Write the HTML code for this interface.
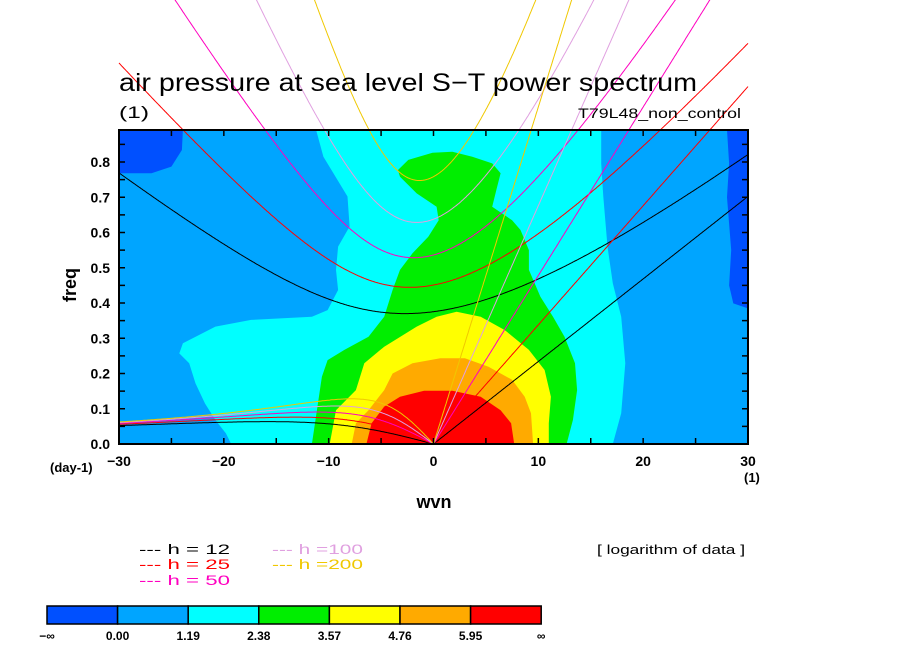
<!DOCTYPE html>
<html><head><meta charset="utf-8"><style>
html,body{margin:0;padding:0;background:#fff;}
svg{display:block;font-family:"Liberation Sans",sans-serif;}
</style></head><body>
<svg id="chart" width="904" height="654" viewBox="0 0 904 654" xmlns="http://www.w3.org/2000/svg">
<defs><clipPath id="pc"><rect x="119" y="130" width="629" height="314"/></clipPath></defs>
<rect x="0" y="0" width="904" height="654" fill="#fff"/>
<g id="fills" clip-path="url(#pc)"></g>
<g id="curves"></g>
<rect x="119" y="130" width="629" height="314" fill="none" stroke="#000" stroke-width="2"/>
<g id="ticks"></g>
<text x="119" y="91" font-size="25" textLength="578" lengthAdjust="spacingAndGlyphs">air pressure at sea level S−T power spectrum</text>
<text x="119" y="118" font-size="17" textLength="30" lengthAdjust="spacingAndGlyphs">(1)</text>
<text x="578" y="118" font-size="14" textLength="163" lengthAdjust="spacingAndGlyphs">T79L48_non_control</text>
<text x="0" y="0" font-size="18" font-weight="bold" transform="translate(76,285) rotate(-90)" text-anchor="middle">freq</text>
<text x="434" y="508" font-size="18" font-weight="bold" text-anchor="middle">wvn</text>
<text x="50" y="472" font-size="13" font-weight="bold">(day-1)</text>
<text x="744" y="482" font-size="13" font-weight="bold">(1)</text>
<g id="legend"></g>
<text x="597" y="554" font-size="13" textLength="148" lengthAdjust="spacingAndGlyphs">[ logarithm of data ]</text>
<g id="cbar"></g>
</svg>
<script>
// ---- data ----
const xTicks = [-30,-20,-10,0,10,20,30];
const yTicks = [0,0.1,0.2,0.3,0.4,0.5,0.6,0.7,0.8];
const depths = [12,25,50,100,200];
const depthColors = ["#000000","#ff0000","#ff00c0","#e0a0e0","#f0c800"];
const levelLabels = ["−∞","0.00","1.19","2.38","3.57","4.76","5.95","∞"];
const levelColors = ["#0050ff","#00a5ff","#00ffff","#00ee00","#ffff00","#ffaa00","#ff0000"];
// contour regions as [wavenumber, freq] vertices
const regionDarkTL = [[-30,0.891],[-23.9,0.891],[-24.0,0.834],[-25.0,0.787],[-26.9,0.768],[-30,0.768]];
const regionDarkR = [[28.0,0.891],[30.5,0.891],[30.5,0.38],[28.6,0.399],[28.2,0.45],[28.4,0.55],[28.0,0.70],[28.2,0.796]];
const regionCyan = [[-11.2,0.891],[-10.5,0.815],[-8.2,0.702],[-8.0,0.617],[-9.1,0.56],[-9.3,0.494],[-9.1,0.437],[-10.1,0.38],[-11.6,0.361],[-17.4,0.352],[-20.8,0.333],[-23.9,0.286],[-24.25,0.257],[-23.3,0.229],[-22.7,0.172],[-21.8,0.115],[-20.8,0.068],[-19.8,0.03],[-19.3,0],[17.1,0],[17.9,0.087],[18.3,0.229],[17.9,0.361],[17.1,0.456],[16.6,0.56],[16.2,0.702],[16.0,0.796],[16.0,0.891]];
const regionGreen = [[-11.6,0],[-10.65,0.191],[-10.1,0.238],[-8.5,0.267],[-6.2,0.304],[-4.7,0.361],[-3.9,0.437],[-3.2,0.494],[-2.0,0.541],[-0.5,0.588],[0.5,0.635],[0.3,0.673],[-1.6,0.711],[-3.2,0.758],[-3.4,0.777],[-2.4,0.806],[-0.1,0.826],[1.8,0.829],[3.7,0.815],[5.6,0.796],[6.4,0.768],[6.0,0.721],[5.6,0.673],[7.5,0.635],[8.3,0.607],[9.1,0.55],[9.1,0.494],[10.2,0.418],[11.4,0.361],[12.5,0.304],[13.5,0.229],[13.7,0.153],[13.3,0.068],[12.7,0]];
const regionYellow = [[-9.9,0],[-9.3,0.096],[-7.4,0.153],[-6.6,0.229],[-4.7,0.276],[-1.6,0.333],[0.3,0.361],[2.2,0.375],[4.5,0.361],[6.8,0.323],[9.1,0.267],[10.6,0.21],[11.2,0.134],[11.0,0.059],[11.0,0]];
const regionOrange = [[-7.8,0],[-7.4,0.059],[-6.2,0.096],[-4.7,0.153],[-3.9,0.2],[-2.0,0.229],[0.65,0.243],[3.0,0.243],[5.25,0.219],[7.5,0.182],[8.7,0.134],[9.3,0.087],[9.5,0]];
const regionRed = [[-6.4,0],[-5.9,0.059],[-4.7,0.106],[-3.2,0.134],[-0.9,0.151],[1.8,0.151],[4.5,0.134],[6.4,0.096],[7.4,0.059],[7.7,0]];
const regions = [[regionDarkTL,0],[regionDarkR,0],[regionCyan,2],[regionGreen,3],[regionYellow,4],[regionOrange,5],[regionRed,6]];

// ---- axes ----
const X0=119,X1=748,Y0=444,YT=130;
const xs = k => X0 + (k+30)*(X1-X0)/60;
const ys = f => Y0 - f*352.5;
const NS="http://www.w3.org/2000/svg";
function mk(tag, attrs, parent){const e=document.createElementNS(NS,tag);for(const a in attrs)e.setAttribute(a,attrs[a]);parent.appendChild(e);return e;}

const fills=document.getElementById('fills');
const bg=mk('rect',{x:X0,y:YT,width:X1-X0,height:Y0-YT,fill:levelColors[1]},fills);


regions.forEach(([pts,ci],i)=>{
  const p=mk('polygon',{points:pts.map(q=>xs(q[0]).toFixed(1)+','+ys(q[1]).toFixed(1)).join(' '),fill:levelColors[ci]},fills);
  
  
});

// dispersion curves
const a=6.371e6,Om=7.292e-5,beta=2*Om/a,g=9.81,toCpd=86400/(2*Math.PI);
const curves=document.getElementById('curves');
function solve(w,A,C){for(let i=0;i<60;i++){const f=w*w*w-A*w-C,d=3*w*w-A;w-=f/d;}return w;}
depths.forEach((h,i)=>{
  const c=Math.sqrt(g*h);
  let ig=[],er=[],kv=[];
  for(let s=-30;s<=30.001;s+=0.1){
    const k=s/a,A=k*k*c*c+3*beta*c,C=beta*k*c*c;
    const wig=solve(Math.sqrt(A)*1.5,A,C);
    ig.push([xs(s),ys(wig*toCpd)]);
    if(s<-0.05){const wer=solve(-C/A,A,C);er.push([xs(s),ys(wer*toCpd)]);}
    if(s>-0.05){kv.push([xs(s),ys(Math.max(0,k*c)*toCpd)]);}
  }
  er.push([xs(0),ys(0)]);
  [[ig,'ig'],[er,'er'],[kv,'kelvin']].forEach(([pts,nm])=>{
    const pl=mk('polyline',{points:pts.map(p=>p[0].toFixed(1)+','+p[1].toFixed(1)).join(' '),fill:'none',stroke:depthColors[i],'stroke-width':1},curves);
    
    
  });
});

// ticks
const tk=document.getElementById('ticks');
for(let k=-30;k<=30;k+=5){
  mk('line',{x1:xs(k),x2:xs(k),y1:Y0,y2:Y0-6,stroke:'#000','stroke-width':1.5},tk);
  mk('line',{x1:xs(k),x2:xs(k),y1:YT,y2:YT+6,stroke:'#000','stroke-width':1.5},tk);
}
for(let j=0;j<=17;j++){const f=j*0.05;
  mk('line',{x1:X0,x2:X0+6,y1:ys(f),y2:ys(f),stroke:'#000','stroke-width':1.5},tk);
  mk('line',{x1:X1,x2:X1-6,y1:ys(f),y2:ys(f),stroke:'#000','stroke-width':1.5},tk);
}
xTicks.forEach(v=>{
  const t=mk('text',{x:xs(v),y:466,'font-size':14,'font-weight':'bold','text-anchor':'middle'},tk);
  t.textContent=(v<0?'−'+(-v):String(v));
  
  
});
yTicks.forEach(v=>{
  const t=mk('text',{x:110,y:ys(v)+5,'font-size':14,'font-weight':'bold','text-anchor':'end'},tk);
  t.textContent=v.toFixed(1);
  
  
});

// legend
const lg=document.getElementById('legend');
const lpos=[[139,554],[139,569],[139,585],[272,554],[272,569]];
depths.forEach((h,i)=>{
  const [x,y]=lpos[i];
  const t=mk('text',{x:x,y:y,'font-size':14,fill:depthColors[i],textLength:91,lengthAdjust:'spacingAndGlyphs'},lg);
  t.textContent='--- h '+(h>=100?'=':'= ')+h;
  
  
});

// colorbar
const cb=document.getElementById('cbar');
const cx0=47,cw=70.6;
levelColors.forEach((col,i)=>{
  const r=mk('rect',{x:cx0+i*cw,y:606,width:cw,height:18,fill:col,stroke:'#000','stroke-width':1.5},cb);
  
  
});
levelLabels.forEach((l,i)=>{
  const t=mk('text',{x:cx0+i*cw,y:640,'font-size':12,'font-weight':'bold','text-anchor':'middle'},cb);
  t.textContent=l;
  
  
});
</script>
</body></html>
